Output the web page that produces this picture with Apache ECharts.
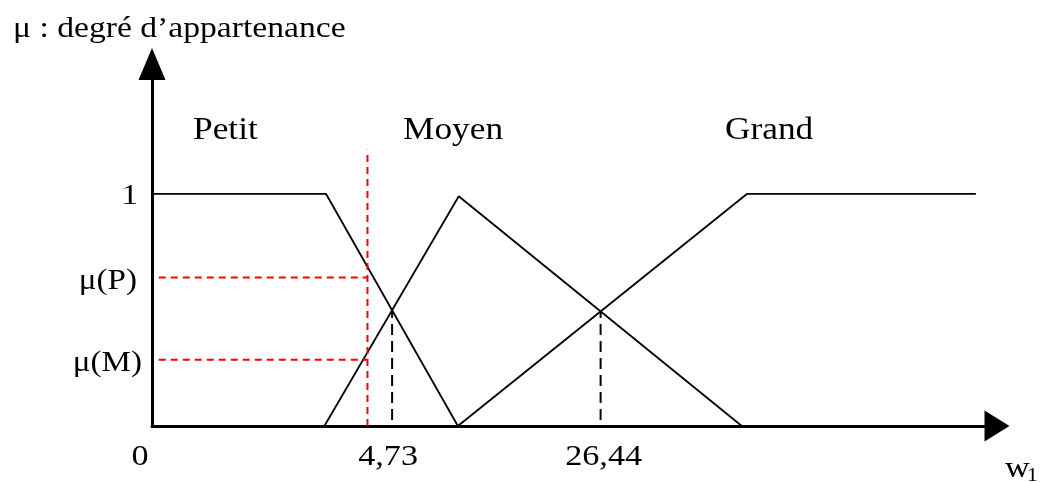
<!DOCTYPE html>
<html>
<head>
<meta charset="utf-8">
<script src="https://cdn.jsdelivr.net/npm/echarts@6/dist/echarts.min.js"></script>
<style>
  html, body { margin: 0; padding: 0; background: #fff; }
  #chart { width: 1040px; height: 482px; }
</style>
</head>
<body>
<div id="chart"></div>
<script>
// fonctions d'appartenance (x en unités arbitraires 0..100, y = degré)
var petitX = [0, 20.6, 36.2];
var petitY = [1, 1, 0];
var moyenX = [20.4, 36.3, 69.8];
var moyenY = [0, 0.99, 0];
var grandX = [36.2, 70.4, 97.5];
var grandY = [0, 1, 1];
var setNames = ['Petit', 'Moyen', 'Grand'];

// entrée (trait rouge) et degrés lus
var inputX = 25.5;
var muP = 0.64;
var muM = 0.285;

var xTickLabels = ['0', '4,73', '26,44'];
var yTickLabels = ['1', 'μ(P)', 'μ(M)'];
var yAxisName = 'μ : degré d\u2019appartenance';
var xAxisName = 'w';
var xAxisSub = '1';

var font = '"Liberation Serif", "Times New Roman", serif';
var stretch = 1.14; // le texte de l'original est un peu étiré en largeur

function pairs(xs, ys) {
  return xs.map(function (x, i) { return [x, ys[i]]; });
}

// premier point de croisement de deux polylignes
function crossing(a, b) {
  for (var i = 0; i < a.length - 1; i++) {
    for (var j = 0; j < b.length - 1; j++) {
      var p = a[i], r = [a[i + 1][0] - p[0], a[i + 1][1] - p[1]];
      var q = b[j], s = [b[j + 1][0] - q[0], b[j + 1][1] - q[1]];
      var d = r[0] * s[1] - r[1] * s[0];
      if (d === 0) continue;
      var t = ((q[0] - p[0]) * s[1] - (q[1] - p[1]) * s[0]) / d;
      var u = ((q[0] - p[0]) * r[1] - (q[1] - p[1]) * r[0]) / d;
      if (t > 0 && t < 1 && u > 0 && u < 1) return [p[0] + t * r[0], p[1] + t * r[1]];
    }
  }
  return null;
}

var petit = pairs(petitX, petitY);
var moyen = pairs(moyenX, moyenY);
var grand = pairs(grandX, grandY);
var crossPM = crossing(petit, moyen);
var crossMG = crossing(moyen, grand);

function plain(name, data) {
  return {
    name: name, type: 'line', data: data, symbol: 'none', silent: true,
    lineStyle: { color: '#000', width: 1.8 }
  };
}
function dashed(data, color, dash) {
  return {
    type: 'line', data: data, symbol: 'none', silent: true,
    lineStyle: { color: color, width: 2, type: dash }
  };
}

var chart = echarts.init(document.getElementById('chart'), null, { renderer: 'canvas' });

chart.setOption({
  animation: false,
  backgroundColor: '#fff',
  grid: { left: 152, right: 43, top: 64, bottom: 56 },
  xAxis: {
    type: 'value', min: 0, max: 100,
    axisLine: { show: true, symbol: ['none', 'triangle'], symbolSize: [31, 25], lineStyle: { color: '#000', width: 3 } },
    axisTick: { show: false }, axisLabel: { show: false }, splitLine: { show: false }
  },
  yAxis: {
    type: 'value', min: 0, max: 1.56,
    axisLine: { show: true, symbol: ['none', 'triangle'], symbolSize: [27, 32], lineStyle: { color: '#000', width: 3 } },
    axisTick: { show: false }, axisLabel: { show: false }, splitLine: { show: false }
  },
  series: [
    plain(setNames[0], petit),
    plain(setNames[1], moyen),
    plain(setNames[2], grand),
    dashed([[inputX, 0], [inputX, 1.19]], '#ff0000', [7, 5]),
    dashed([[0.8, muP], [inputX, muP]], '#ff0000', [7, 5]),
    dashed([[0.8, muM], [inputX, muM]], '#ff0000', [7, 5]),
    dashed([[crossPM[0], 0.026], crossPM], '#000', [11, 6]),
    dashed([[crossMG[0], 0.026], crossMG], '#000', [11, 6])
  ]
});

function px(x, y) {
  return chart.convertToPixel({ gridIndex: 0 }, [x, y]);
}
function label(text, pt, dx, dy, size, align) {
  return {
    type: 'text', x: pt[0] + dx, y: pt[1] + dy, scaleX: stretch, silent: true,
    style: {
      text: text, fontSize: size, fontFamily: font, fill: '#000',
      align: align || 'center', verticalAlign: 'middle'
    }
  };
}

var g = [];
// titre de l'axe vertical
g.push(label(yAxisName, [13, 29], 0, 0, 29.5, 'left'));
// noms des ensembles
g.push(label(setNames[0], px(4.85, 1.27), 0, 0, 31, 'left'));
g.push(label(setNames[1], px(29.7, 1.27), 0, 0, 31, 'left'));
g.push(label(setNames[2], px(67.8, 1.27), 0, 0, 31, 'left'));
// graduations verticales
g.push(label(yTickLabels[0], px(0, 1), -14, 2, 29, 'right'));
g.push(label(yTickLabels[1], px(0, muP), -15, 4, 29, 'right'));
g.push(label(yTickLabels[2], px(0, muM), -10, 4, 29, 'right'));
// graduations horizontales
g.push(label(xTickLabels[0], px(0, 0), -12, 31, 30));
g.push(label(xTickLabels[1], px(crossPM[0], 0), -4, 31, 30));
g.push(label(xTickLabels[2], px(crossMG[0], 0), 3, 31, 30));
// nom de l'axe horizontal
g.push(label(xAxisName, px(100, 0), 8, 43, 30, 'left'));
g.push(label(xAxisSub, px(100, 0), 30, 50, 19, 'left'));

chart.setOption({ graphic: g });
</script>
</body>
</html>
